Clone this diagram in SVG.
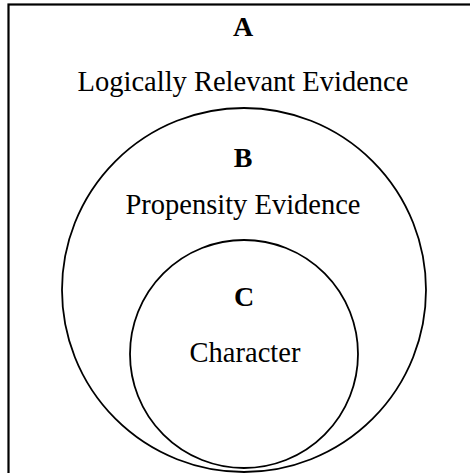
<svg xmlns="http://www.w3.org/2000/svg" width="470" height="473" viewBox="0 0 470 473">
<style>
.shape{fill:none;stroke:#000;stroke-width:1.8}
.frame{fill:none;stroke:#000;stroke-width:2.2}
.lbl{font-family:"Liberation Serif",serif;font-size:28.5px;text-anchor:middle;fill:#000}
.let{font-family:"Liberation Serif",serif;font-size:28px;font-weight:bold;text-anchor:middle;fill:#000}
</style>
<rect width="470" height="473" fill="#fff"/>
<g id="A">
<rect class="frame" x="8.5" y="4.5" width="480" height="490"/>
<text class="let" x="243" y="36">A</text>
<text class="lbl" x="243" y="91">Logically Relevant Evidence</text>
</g>
<g id="B">
<circle class="shape" cx="244" cy="290" r="182"/>
<text class="let" x="243" y="167">B</text>
<text class="lbl" x="243" y="214">Propensity Evidence</text>
</g>
<g id="C">
<circle class="shape" cx="244" cy="354" r="114"/>
<text class="let" x="244" y="306">C</text>
<text class="lbl" x="245" y="362">Character</text>
</g>
<g id="connectors"/>
</svg>
